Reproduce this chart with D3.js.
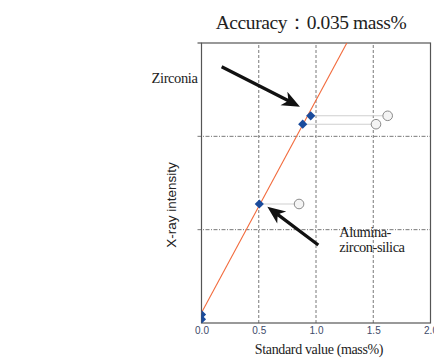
<!DOCTYPE html>
<html>
<head>
<meta charset="utf-8">
<script src="https://cdn.jsdelivr.net/npm/d3@7"></script>
<style>
  html, body { margin: 0; padding: 0; background: #fff; }
  svg { display: block; }
</style>
</head>
<body>
<div id="chart"></div>
<script>
// Calibration data: standard value (mass%) vs. X-ray intensity
const samples = ["Blank", "Blank", "Alumina-zircon-silica", "Zirconia", "Zirconia"];
const standardValue = [0.0, 0.0, 0.505, 0.884, 0.954];
const intensity = [0.04, 0.09, 1.275, 2.13, 2.22];
// Uncorrected values (open circles), same intensity
const uncorrectedValue = [null, null, 0.852, 1.524, 1.626];
// Calibration line end points
const calibX = [0.0, 1.30];
const calibY = [0.11, 3.07];
const xTicks = [0.0, 0.5, 1.0, 1.5, 2.0];
const yTicks = [1, 2, 3];
const title = "Accuracy\uFF1A0.035 mass%";

const W = 434, H = 358;
const margin = { top: 43, right: 3.5, bottom: 35, left: 201.5 };

const svg = d3.select("#chart").append("svg")
  .attr("width", W).attr("height", H);

const x = d3.scaleLinear().domain([0, 2]).range([margin.left, W - margin.right]);
const y = d3.scaleLinear().domain([0, 3]).range([H - margin.bottom, margin.top]);

svg.append("defs").append("clipPath").attr("id", "plot-clip")
  .append("rect")
  .attr("x", x(0)).attr("y", y(3))
  .attr("width", x(2) - x(0)).attr("height", y(0) - y(3));

// Dashed grid
const grid = svg.append("g");
grid.selectAll("line.vg").data(xTicks.filter(d => d > 0 && d < 2)).join("line")
  .attr("x1", d => x(d)).attr("x2", d => x(d))
  .attr("y1", y(0)).attr("y2", y(3))
  .attr("stroke", "#555").attr("stroke-width", 0.8)
  .attr("stroke-dasharray", "3,2");
grid.selectAll("line.hg").data(yTicks.filter(d => d < 3)).join("line")
  .attr("x1", x(0) - 4).attr("x2", x(2))
  .attr("y1", d => y(d)).attr("y2", d => y(d))
  .attr("stroke", "#555").attr("stroke-width", 0.8)
  .attr("stroke-dasharray", "4,1.5,1,1.5");

// Frame
svg.append("rect")
  .attr("x", x(0)).attr("y", y(3))
  .attr("width", x(2) - x(0)).attr("height", y(0) - y(3))
  .attr("fill", "none").attr("stroke", "#555").attr("stroke-width", 1.2);
svg.append("line")
  .attr("x1", x(0) - 4).attr("x2", x(0))
  .attr("y1", y(3)).attr("y2", y(3))
  .attr("stroke", "#555").attr("stroke-width", 1.2);

// X axis tick labels
const xAxis = d3.axisBottom(x).tickValues(xTicks).tickSize(0).tickPadding(4)
  .tickFormat(d3.format(".1f"));
const gx = svg.append("g").attr("transform", `translate(0,${y(0)})`).call(xAxis);
gx.select(".domain").remove();
gx.selectAll("text")
  .attr("font-family", "Liberation Sans, Arial, sans-serif")
  .attr("font-size", 10).attr("fill", "#3d4a6a");

const plot = svg.append("g").attr("clip-path", "url(#plot-clip)");

// Calibration line
const line = d3.line().x(d => x(d[0])).y(d => y(d[1]));
plot.append("path")
  .datum(calibX.map((v, i) => [v, calibY[i]]))
  .attr("d", line)
  .attr("fill", "none").attr("stroke", "#f26a3c").attr("stroke-width", 1.1);

const pts = standardValue.map((v, i) => ({
  name: samples[i], x: v, y: intensity[i], u: uncorrectedValue[i]
}));
const withU = pts.filter(d => d.u !== null);

// Connectors from corrected to uncorrected values
plot.selectAll("line.conn").data(withU).join("line")
  .attr("x1", d => x(d.x)).attr("x2", d => x(d.u))
  .attr("y1", d => y(d.y)).attr("y2", d => y(d.y))
  .attr("stroke", "#cfcfcf").attr("stroke-width", 1.1);

// Uncorrected values (open circles)
plot.selectAll("circle").data(withU).join("circle")
  .attr("cx", d => x(d.u)).attr("cy", d => y(d.y)).attr("r", 4.8)
  .attr("fill", "#f4f4f4").attr("stroke", "#8a8a8a").attr("stroke-width", 1);

// Corrected values (diamonds)
plot.selectAll("path.pt").data(pts).join("path")
  .attr("transform", d => `translate(${x(d.x)},${y(d.y)}) rotate(45)`)
  .attr("d", d3.symbol().type(d3.symbolSquare).size(42))
  .attr("fill", "#1a4b9c");

// Annotation arrows
const arrows = [
  { from: [0.176, 2.746], to: [0.86, 2.318] },
  { from: [1.02, 0.836], to: [0.575, 1.246] }
];
function arrowPath(a) {
  const x0 = x(a.from[0]), y0 = y(a.from[1]);
  const x1 = x(a.to[0]), y1 = y(a.to[1]);
  const dx = x1 - x0, dy = y1 - y0, L = Math.hypot(dx, dy);
  const ux = dx / L, uy = dy / L, nx = -uy, ny = ux;
  const hl = 18, hw = 7.5, sw = 1.6;
  const bx = x1 - ux * hl, by = y1 - uy * hl;
  const bxx = x1 - ux * (hl - 4), byy = y1 - uy * (hl - 4);
  return [
    [x0 + nx * sw, y0 + ny * sw],
    [bxx + nx * sw, byy + ny * sw],
    [bx + nx * hw, by + ny * hw],
    [x1, y1],
    [bx - nx * hw, by - ny * hw],
    [bxx - nx * sw, byy - ny * sw],
    [x0 - nx * sw, y0 - ny * sw]
  ].map(p => p.join(",")).join(" ");
}
svg.selectAll("polygon.arrow").data(arrows).join("polygon")
  .attr("points", arrowPath)
  .attr("fill", "#111");

// Sample labels
const serif = "Liberation Serif, Times New Roman, serif";
svg.append("text")
  .attr("x", x(-0.035)).attr("y", y(2.57))
  .attr("text-anchor", "end")
  .attr("font-family", serif).attr("font-size", 14.5)
  .attr("letter-spacing", -0.4).attr("fill", "#222")
  .text("Zirconia");
const al = svg.append("text")
  .attr("font-family", serif).attr("font-size", 14.5)
  .attr("letter-spacing", -0.5).attr("fill", "#222");
al.append("tspan").attr("x", x(1.204)).attr("y", y(0.92)).text("Alumina-");
al.append("tspan").attr("x", x(1.204)).attr("y", y(0.762)).text("zircon-silica");

// Title
svg.append("text")
  .attr("x", 311).attr("y", 29)
  .attr("text-anchor", "middle")
  .attr("font-family", serif).attr("font-size", 19.5)
  .attr("letter-spacing", -0.4).attr("fill", "#222")
  .text(title);

// Axis titles
svg.append("text")
  .attr("x", (x(0) + x(2)) / 2 + 3).attr("y", 354)
  .attr("text-anchor", "middle")
  .attr("font-family", serif).attr("font-size", 14)
  .attr("letter-spacing", -0.35).attr("fill", "#222")
  .text("Standard value (mass%)");
svg.append("text")
  .attr("transform", `translate(176,${(y(0) + y(3)) / 2 + 22}) rotate(-90)`)
  .attr("text-anchor", "middle")
  .attr("font-family", "Liberation Sans, Arial, sans-serif")
  .attr("font-size", 13.5).attr("fill", "#222")
  .text("X-ray intensity");
</script>
</body>
</html>
